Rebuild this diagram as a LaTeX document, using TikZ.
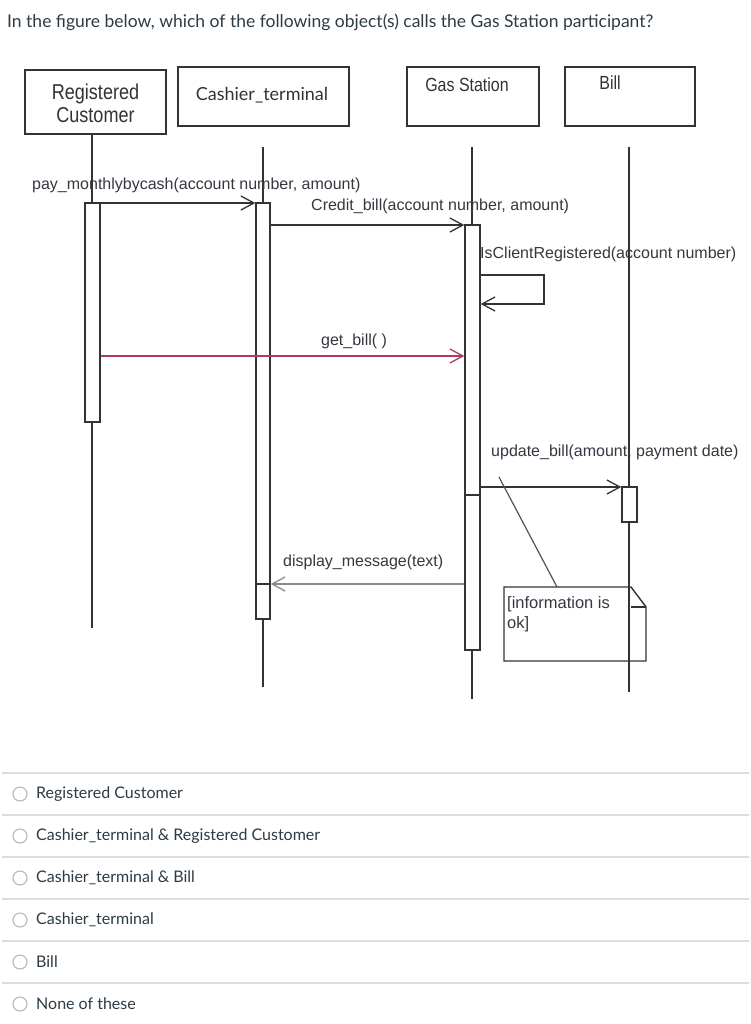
\documentclass[tikz,border=0pt]{standalone}
\usepackage{fontspec}
\setmainfont{Lato}
\newfontfamily\umlfont{Liberation Sans}
\newfontfamily\headfont[FakeStretch=0.84]{Liberation Sans}
\usetikzlibrary{arrows.meta}
\definecolor{ln}{HTML}{333333}
\definecolor{getc}{HTML}{B23A62}
\definecolor{dispc}{HTML}{8A8A8A}
\definecolor{txt}{HTML}{2D3B45}
\definecolor{lbl}{HTML}{3A3540}
\definecolor{sep}{HTML}{DCDCDC}
\definecolor{radio}{HTML}{B8B8B8}
\tikzset{
  headbox/.style={draw=ln, line width=1.6pt, inner sep=0pt},
  life/.style={draw=ln, line width=1.4pt},
  actbox/.style={draw=ln, line width=1.4pt, fill=white},
  msg/.style={draw=ln, line width=1.4pt, -{Straight Barb[length=13pt,width=14pt,line width=1.3pt]}},
  msglbl/.style={anchor=west, inner sep=0pt, text=lbl, font=\umlfont\fontsize{16}{18}\selectfont},
  headtxt/.style={inner sep=0pt, text=ln, font=\headfont\fontsize{21.5}{26}\selectfont, align=center},
  headtxts/.style={inner sep=0pt, text=ln, font=\headfont\fontsize{19}{22}\selectfont},
  opt/.style={anchor=west, inner sep=0pt, text=txt, font=\fontsize{16}{18}\selectfont},
  radiobtn/.style={circle, draw=radio, line width=1.1pt, minimum size=14pt, inner sep=0pt},
  sepline/.style={draw=sep, line width=1.5pt}
}
\begin{document}
\begin{tikzpicture}[x=1pt,y=-1pt]
\useasboundingbox (0,0) rectangle (750,1024);
\fill[white] (0,0) rectangle (750,1024);

% question
\node[anchor=west, inner sep=0pt, text=txt, font=\fontsize{17.5}{20}\selectfont] (q) at (7,22)
  {In the figure below, which of the following object(s) calls the Gas Station participant?};

% header boxes
\node[headbox, minimum width=141pt, minimum height=64pt] (rc) at (95.5,102) {};
\node[headtxt] (rct) at (95.5,103.5) {Registered\\[-3pt]Customer};
\node[headbox, minimum width=171pt, minimum height=59pt] (ct) at (263.5,96.5) {};
\node[inner sep=0pt, text=ln, font=\fontsize{18}{20}\selectfont] (ctt) at (262,95) {Cashier\_terminal};
\node[headbox, minimum width=132pt, minimum height=59pt] (gs) at (473,96.5) {};
\node[headtxts] (gst) at (467,85) {Gas Station};
\node[headbox, minimum width=130pt, minimum height=59pt] (bl) at (630,96.5) {};
\node[headtxts] (blt) at (610,83) {Bill};

% lifeline coordinates
\coordinate (rcTop) at (92,134);
\coordinate (rcEnd) at (92,628);
\coordinate (ctTop) at (263,147);
\coordinate (ctEnd) at (263,687);
\coordinate (gsTop) at (472,147);
\coordinate (gsEnd) at (472,699);
\coordinate (blTop) at (629,147);
\coordinate (blEnd) at (629,692);

\draw[life] (rcTop) -- (rcEnd);
\draw[life] (ctTop) -- (ctEnd);
\draw[life] (gsTop) -- (gsEnd);
\draw[life] (blTop) -- (blEnd);

% activation boxes
\node[actbox, minimum width=15pt, minimum height=219pt, inner sep=0pt] (rcA) at (92.5,312.5) {};
\node[actbox, minimum width=14pt, minimum height=416pt, inner sep=0pt] (ctA) at (263,411) {};
\node[actbox, minimum width=15pt, minimum height=425pt, inner sep=0pt] (gsA) at (472.5,437.5) {};
\node[actbox, minimum width=15pt, minimum height=35pt, inner sep=0pt] (blA) at (629.5,504.5) {};
\draw[life] (ctA.west |- 0,584) -- (ctA.east |- 0,584);
\draw[life] (gsA.west |- 0,495) -- (gsA.east |- 0,495);

% messages
\draw[msg] (rcA.east |- 0,203) -- (ctA.west |- 0,203);
\node[msglbl] (m1) at (32,185) {pay\_monthlybycash(account number, amount)};

\draw[msg] (ctA.east |- 0,225) -- (gsA.west |- 0,225);
\node[msglbl] (m2) at (311,206) {Credit\_bill(account number, amount)};

\coordinate (selfA) at (544,275);
\coordinate (selfB) at (544,304);
\draw[msg] (gsA.east |- selfA) -- (selfA) -- (selfB) -- (gsA.east |- selfB);
\node[msglbl] (m3) at (480,254) {IsClientRegistered(account number)};

\draw[msg, draw=getc] (rcA.east |- 0,356) -- (gsA.west |- 0,356);
\node[msglbl] (m4) at (321,341) {get\_bill( )};

\draw[msg] (gsA.east |- 0,487) -- (blA.west |- 0,487);
\node[msglbl] (m5) at (491,452) {update\_bill(amount, payment date)};

\draw[msg, draw=dispc] (gsA.west |- 0,584) -- (ctA.east |- 0,584);
\node[msglbl] (m6) at (283,562) {display\_message(text)};

% note
\coordinate (nA) at (504,587);
\coordinate (nB) at (631,587);
\coordinate (nC) at (646,607);
\coordinate (nD) at (646,661);
\coordinate (nE) at (504,661);
\draw[draw=ln, line width=1.4pt] (nA) -- (nB) -- (nC) -- (nD) -- (nE) -- cycle;
\draw[draw=ln, line width=1.4pt] (nB |- nC) -- (nC);
\node[msglbl, font=\umlfont\fontsize{16.5}{18}\selectfont, align=left, anchor=north west] (nt) at (507,596) {[information is\\[2pt]ok]};
\coordinate (nlink) at (499,477);
\draw[draw=ln!85, line width=1.2pt] (nlink) -- (557,587);

% options
\foreach \y in {773,815,857,899,941,983} \draw[sepline] (2,\y) -- (749,\y);
\foreach \y/\t/\n in {794/Registered Customer/o1, 836/Cashier\_terminal \& Registered Customer/o2, 878/Cashier\_terminal \& Bill/o3, 920/Cashier\_terminal/o4, 962/Bill/o5, 1004/None of these/o6} {
  \node[radiobtn] (r\n) at (20,\y) {};
  \node[opt] (\n) at (36,\y) {\t};
}
\end{tikzpicture}
\end{document}
